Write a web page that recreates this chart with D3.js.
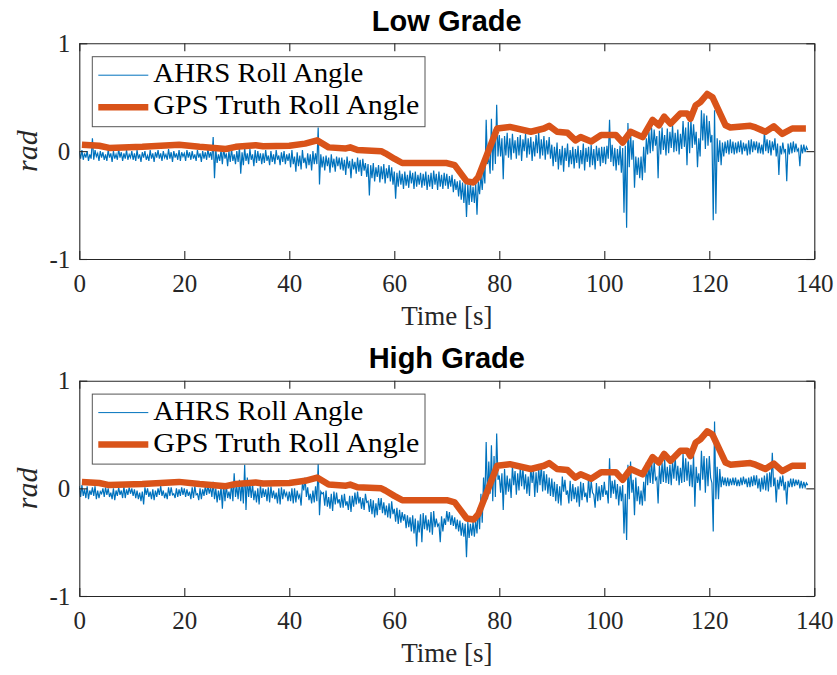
<!DOCTYPE html>
<html>
<head>
<meta charset="utf-8">
<script src="https://cdn.jsdelivr.net/npm/d3@7"></script>
<style>
  body { margin: 0; background: #fff; }
  svg { display: block; }
</style>
</head>
<body>
<svg id="chart" width="837" height="675"></svg>
<script>
// GPS truth roll angle (rad), same reference for both panels
const gpsTime = [0.5, 3.8, 5.7, 12, 19, 22.9, 27.9, 29.8, 33.6, 35, 40, 43, 45.3, 47.5, 50.8, 51.6, 53, 57.5, 58.3, 60, 61.5,
  70, 71.5, 73.8, 75.1, 76, 79.6, 82, 86, 88.5, 89.5, 91, 93, 94.5, 95.5, 97.5, 99.4, 102.2, 103.5, 105,
  107.3, 109.2, 110.4, 111.4, 112.6, 114.5, 115.8, 116.4, 117.4, 118.3, 119.6, 120.6, 123.1, 124, 127.8,
  128.8, 130.7, 132.3, 133.9, 135.8, 138.4];
const gpsRoll = [0.06, 0.05, 0.03, 0.04, 0.06, 0.04, 0.02, 0.04, 0.055, 0.045, 0.05, 0.07, 0.1, 0.035, 0.025, 0.035, 0.01, 0.0, -0.02, -0.07, -0.11,
  -0.11, -0.13, -0.28, -0.29, -0.24, 0.21, 0.225, 0.18, 0.21, 0.235, 0.18, 0.17, 0.1, 0.13, 0.09, 0.15, 0.15, 0.08, 0.18,
  0.13, 0.29, 0.24, 0.32, 0.255, 0.35, 0.35, 0.3, 0.425, 0.455, 0.53, 0.5, 0.24, 0.22, 0.235,
  0.22, 0.18, 0.23, 0.16, 0.21, 0.21];

// AHRS roll angle (rad), one sample every 0.25 s from t = 0 (one row = 5 s)
const ahrsLow = [
  -0.01, -0.07, 0.01, -0.08, -0.02, -0.06, 0.00, -0.09, -0.03, -0.07, 0.12, -0.08, 0.01, -0.05, -0.02, -0.09, 0.00, -0.06, -0.01, -0.08,
  -0.03, -0.09, 0.01, -0.06, -0.02, -0.10, 0.00, -0.07, -0.03, -0.08, 0.02, -0.06, -0.01, -0.09, -0.02, -0.07, 0.01, -0.08, -0.03, -0.06,
  0.00, -0.08, -0.02, -0.09, 0.01, -0.07, -0.03, -0.10, -0.01, -0.06, 0.00, -0.08, -0.04, -0.09, 0.01, -0.07, -0.02, -0.10, -0.01, -0.06,
  0.01, -0.07, -0.02, -0.09, 0.00, -0.06, -0.03, -0.08, 0.02, -0.07, -0.01, -0.10, 0.00, -0.06, -0.02, -0.08, 0.01, -0.09, -0.01, -0.05,
  -0.02, -0.09, 0.01, -0.06, -0.01, -0.08, 0.00, -0.07, -0.03, -0.09, 0.01, -0.06, -0.02, -0.10, 0.00, -0.07, -0.01, -0.08, 0.02, -0.06,
  -0.01, -0.08, 0.13, -0.25, 0.02, -0.11, -0.03, -0.09, 0.01, -0.12, 0.03, -0.07, -0.02, -0.14, 0.00, -0.10, 0.02, -0.09, -0.03, -0.12,
  0.00, -0.10, 0.04, -0.21, -0.01, -0.13, 0.03, -0.09, -0.02, -0.12, 0.02, -0.08, -0.03, -0.14, 0.01, -0.11, 0.00, -0.09, -0.02, -0.12,
  -0.02, -0.11, 0.01, -0.09, -0.04, -0.13, 0.00, -0.10, -0.03, -0.12, 0.01, -0.08, -0.04, -0.13, -0.01, -0.10, 0.00, -0.12, -0.03, -0.09,
  -0.02, -0.15, 0.01, -0.12, -0.05, -0.19, -0.01, -0.14, -0.04, -0.17, 0.01, -0.11, -0.06, -0.16, -0.02, -0.13, -0.03, -0.18, 0.00, -0.12,
  -0.02, -0.12, 0.22, -0.31, -0.03, -0.15, -0.05, -0.18, -0.04, -0.14, -0.06, -0.20, -0.03, -0.15, -0.07, -0.19, -0.05, -0.14, -0.06, -0.17,
  -0.06, -0.18, -0.08, -0.22, -0.05, -0.16, -0.09, -0.25, -0.07, -0.17, -0.10, -0.21, -0.06, -0.19, -0.08, -0.23, -0.07, -0.18, -0.11, -0.24,
  -0.12, -0.41, -0.13, -0.25, -0.11, -0.28, -0.15, -0.24, -0.13, -0.29, -0.14, -0.26, -0.12, -0.30, -0.16, -0.25, -0.13, -0.28, -0.15, -0.31,
  -0.19, -0.44, -0.20, -0.33, -0.18, -0.31, -0.21, -0.35, -0.19, -0.32, -0.22, -0.34, -0.18, -0.30, -0.20, -0.35, -0.19, -0.33, -0.22, -0.31,
  -0.20, -0.34, -0.21, -0.32, -0.19, -0.36, -0.22, -0.33, -0.20, -0.35, -0.18, -0.31, -0.21, -0.36, -0.19, -0.33, -0.22, -0.35, -0.20, -0.32,
  -0.21, -0.35, -0.23, -0.33, -0.22, -0.38, -0.26, -0.36, -0.28, -0.42, -0.27, -0.45, -0.29, -0.48, -0.30, -0.61, -0.31, -0.50, -0.29, -0.47,
  -0.33, -0.48, -0.30, -0.59, -0.28, -0.40, -0.22, -0.36, -0.15, -0.30, 0.29, -0.12, -0.05, -0.21, 0.30, -0.18, 0.20, -0.12, 0.43, -0.05,
  0.15, -0.05, 0.12, -0.26, 0.14, -0.04, 0.17, -0.06, 0.12, -0.08, 0.16, -0.02, 0.10, -0.07, 0.13, -0.04, 0.15, -0.09, 0.11, 0.00,
  0.16, -0.06, 0.12, -0.03, 0.13, -0.09, 0.09, -0.05, 0.15, -0.02, 0.18, -0.07, 0.11, -0.04, 0.14, -0.08, 0.10, -0.03, 0.13, -0.07,
  0.06, -0.14, 0.04, -0.10, 0.08, -0.17, 0.02, -0.13, 0.05, -0.19, 0.03, -0.09, 0.07, -0.15, 0.01, -0.12, 0.04, -0.16, 0.02, -0.11,
  0.05, -0.16, 0.01, -0.12, 0.07, -0.18, 0.03, -0.10, 0.04, -0.15, 0.06, -0.13, 0.02, -0.17, 0.05, -0.09, 0.03, -0.14, 0.04, -0.11,
  0.04, -0.12, 0.05, -0.07, 0.29, -0.10, 0.06, -0.14, 0.03, -0.18, 0.02, -0.13, 0.05, -0.20, 0.03, -0.57, 0.05, -0.71, 0.26, -0.15,
  0.18, -0.08, 0.10, -0.34, -0.05, -0.22, -0.06, -0.25, -0.05, -0.27, 0.04, -0.20, 0.12, -0.03, 0.18, -0.02, 0.22, 0.00, 0.20, 0.05,
  0.14, -0.25, 0.19, -0.03, 0.22, 0.01, 0.15, -0.04, 0.21, -0.02, 0.18, 0.03, 0.24, -0.01, 0.17, 0.00, 0.20, -0.03, 0.16, 0.02,
  0.28, 0.04, 0.22, -0.13, 0.27, -0.02, 0.30, 0.03, 0.25, 0.06, 0.18, -0.15, 0.12, -0.05, 0.38, 0.10, 0.35, 0.02, 0.33, 0.05,
  0.28, 0.08, 0.15, -0.64, 0.38, -0.58, 0.12, -0.10, 0.10, -0.13, 0.08, -0.05, 0.09, -0.02, 0.10, -0.03, 0.11, -0.02, 0.09, -0.03,
  0.08, -0.02, 0.09, -0.01, 0.10, -0.03, 0.08, 0.00, 0.07, -0.04, 0.10, -0.03, 0.11, -0.01, 0.09, 0.01, 0.09, -0.02, 0.08, -0.02,
  0.06, -0.03, 0.18, 0.00, 0.11, -0.02, 0.10, -0.04, 0.09, 0.01, 0.12, -0.05, 0.07, -0.22, 0.05, -0.03, 0.08, -0.01, 0.02, -0.28,
  0.07, -0.03, 0.08, -0.02, 0.09, -0.01, 0.07, 0.00, 0.02, -0.14, 0.06, -0.02, 0.06, -0.01, 0.04, 0.01];

const ahrsHigh = [
  0.02, -0.08, 0.03, -0.07, -0.01, -0.09, 0.02, -0.10, -0.02, -0.06, 0.01, -0.07, 0.02, -0.10, -0.02, -0.09, -0.03, -0.05, 0.00, -0.08,
  0.01, -0.06, 0.00, -0.08, -0.04, -0.10, 0.00, -0.11, -0.02, -0.07, 0.01, -0.06, -0.02, -0.09, 0.02, -0.09, -0.01, -0.06, 0.01, -0.05,
  0.00, -0.07, -0.01, -0.09, -0.02, -0.10, -0.04, -0.12, -0.03, -0.15, 0.01, -0.06, 0.00, -0.08, -0.03, -0.10, -0.01, -0.11, -0.02, -0.08,
  0.00, -0.06, 0.02, -0.07, -0.02, -0.09, -0.04, -0.10, 0.01, -0.07, 0.01, -0.06, -0.05, -0.09, 0.00, -0.08, -0.01, -0.07, 0.01, -0.06,
  0.00, -0.08, -0.01, -0.07, -0.03, -0.10, 0.01, -0.09, 0.02, -0.06, -0.05, -0.11, 0.00, -0.10, -0.01, -0.07, 0.02, -0.06, 0.03, -0.05,
  0.01, -0.08, 0.06, -0.10, 0.00, -0.13, -0.02, -0.11, 0.02, -0.19, 0.04, -0.12, 0.03, -0.09, -0.03, -0.10, 0.05, -0.12, 0.14, -0.08,
  0.02, -0.10, 0.08, -0.12, 0.06, -0.14, 0.22, -0.20, 0.10, -0.08, 0.05, -0.09, 0.04, -0.11, -0.02, -0.13, 0.00, -0.15, 0.03, -0.09,
  0.00, -0.08, -0.01, -0.12, 0.01, -0.13, 0.02, -0.09, -0.02, -0.10, -0.04, -0.14, 0.00, -0.15, 0.01, -0.10, -0.01, -0.07, -0.04, -0.12,
  -0.03, -0.12, 0.00, -0.14, 0.00, -0.13, -0.02, -0.09, -0.06, -0.16, 0.05, -0.02, 0.10, -0.08, 0.01, -0.11, -0.05, -0.14, -0.02, -0.13,
  0.02, -0.12, 0.23, -0.25, -0.03, -0.05, -0.04, -0.16, -0.02, -0.17, -0.08, -0.19, -0.05, -0.21, -0.03, -0.15, -0.04, -0.14, -0.10, -0.18,
  -0.06, -0.18, -0.05, -0.16, -0.12, -0.20, -0.07, -0.22, -0.07, -0.17, -0.04, -0.15, -0.03, -0.14, -0.08, -0.19, -0.09, -0.20, -0.05, -0.13,
  -0.12, -0.22, -0.10, -0.24, -0.11, -0.27, -0.14, -0.25, -0.09, -0.20, -0.09, -0.23, -0.13, -0.25, -0.16, -0.27, -0.14, -0.28, -0.12, -0.24,
  -0.19, -0.31, -0.18, -0.33, -0.20, -0.32, -0.22, -0.30, -0.24, -0.37, -0.25, -0.36, -0.27, -0.40, -0.25, -0.42, -0.28, -0.54, -0.30, -0.41,
  -0.24, -0.50, -0.23, -0.38, -0.25, -0.39, -0.29, -0.41, -0.22, -0.43, -0.21, -0.36, -0.28, -0.35, -0.33, -0.50, -0.26, -0.40, -0.28, -0.34,
  -0.21, -0.31, -0.22, -0.34, -0.25, -0.35, -0.27, -0.38, -0.29, -0.40, -0.30, -0.44, -0.32, -0.45, -0.33, -0.64, -0.31, -0.46, -0.33, -0.44,
  -0.31, -0.45, -0.30, -0.42, -0.18, -0.38, -0.05, -0.32, 0.10, -0.12, 0.43, -0.10, 0.25, -0.05, 0.40, -0.12, 0.30, -0.08, 0.51, 0.08,
  0.12, -0.04, 0.14, -0.20, 0.18, -0.06, 0.12, -0.03, 0.09, -0.09, 0.21, 0.03, 0.16, -0.06, 0.14, -0.02, 0.20, 0.02, 0.19, -0.01,
  0.13, -0.05, 0.11, -0.07, 0.20, 0.05, 0.17, -0.08, 0.15, -0.04, 0.19, 0.03, 0.22, -0.03, 0.16, -0.02, 0.13, -0.05, 0.10, -0.07,
  0.09, -0.08, 0.06, -0.12, 0.04, -0.14, 0.02, -0.16, 0.11, -0.03, 0.08, -0.06, -0.02, -0.14, 0.07, -0.12, 0.04, -0.10, 0.01, -0.13,
  0.02, -0.17, 0.06, -0.11, 0.05, -0.08, -0.04, -0.13, 0.10, -0.09, 0.07, -0.04, -0.06, -0.18, 0.05, -0.12, 0.02, -0.11, 0.03, -0.08,
  0.06, -0.06, -0.02, -0.14, 0.28, -0.09, 0.07, -0.05, 0.08, -0.10, 0.04, -0.16, 0.02, -0.12, 0.03, -0.42, -0.05, -0.48, 0.22, -0.10,
  0.25, -0.04, 0.08, -0.25, 0.10, -0.12, 0.02, -0.15, -0.02, -0.16, 0.06, -0.12, 0.24, 0.03, 0.21, 0.05, 0.27, 0.04, 0.25, 0.08,
  0.10, -0.14, 0.21, 0.04, 0.24, 0.06, 0.27, 0.05, 0.20, 0.04, 0.22, 0.03, 0.25, 0.09, 0.30, 0.07, 0.21, 0.03, 0.19, 0.05,
  0.32, 0.06, 0.28, 0.07, 0.25, 0.02, 0.22, 0.01, 0.31, -0.17, 0.20, 0.05, 0.14, -0.02, 0.35, 0.08, 0.30, -0.04, 0.28, 0.02,
  0.30, 0.10, 0.05, -0.40, 0.62, -0.10, 0.20, -0.10, 0.18, 0.01, 0.11, 0.03, 0.10, 0.02, 0.10, 0.02, 0.09, 0.03, 0.10, 0.03,
  0.10, 0.02, 0.08, 0.02, 0.10, 0.03, 0.11, 0.04, 0.09, 0.01, 0.10, 0.01, 0.11, 0.02, 0.12, 0.03, 0.12, 0.00, 0.09, -0.03,
  0.10, -0.01, 0.12, -0.02, 0.14, -0.03, 0.15, 0.01, 0.33, 0.02, 0.10, -0.13, 0.08, -0.01, 0.11, 0.02, 0.12, -0.02, 0.06, -0.15,
  0.07, 0.01, 0.09, 0.01, 0.09, 0.02, 0.08, 0.03, 0.08, 0.00, 0.07, 0.00, 0.06, 0.01, 0.05, 0.03];
const ahrsStep = 0.25;

const xTicks = [0, 20, 40, 60, 80, 100, 120, 140];
const yTicks = [-1, 0, 1];
const panelTitles = ["Low Grade", "High Grade"];
const legendLabels = ["AHRS Roll Angle", "GPS Truth Roll Angle"];

const blue = "#0072BD", orange = "#D95319", axisColor = "#262626";
const serif = "'Liberation Serif', 'Times New Roman', serif";
const gpsWidth = 6.5;

const svg = d3.select("#chart");
const x = d3.scaleLinear().domain([0, 140]).range([79.3, 814.3]);

const panels = [
  {title: panelTitles[0], ahrs: ahrsLow, top: 43.3, bottom: 259, titleY: 31},
  {title: panelTitles[1], ahrs: ahrsHigh, top: 380.7, bottom: 596, titleY: 368}
];

panels.forEach(function(p, k) {
  const y = d3.scaleLinear().domain([-1, 1]).range([p.bottom, p.top]);
  const g = svg.append("g");

  g.append("clipPath").attr("id", "clip" + k)
    .append("rect")
    .attr("x", x(0)).attr("y", p.top)
    .attr("width", x(140) - x(0)).attr("height", p.bottom - p.top);

  const plot = g.append("g").attr("clip-path", "url(#clip" + k + ")");

  const ahrsPts = p.ahrs.map(function(v, i) { return [i * ahrsStep, v]; });
  const gpsPts = gpsTime.map(function(t, i) { return [t, gpsRoll[i]]; });
  const line = d3.line().x(function(d) { return x(d[0]); }).y(function(d) { return y(d[1]); });

  plot.append("path")
    .datum(ahrsPts)
    .attr("d", line)
    .attr("fill", "none")
    .attr("stroke", blue)
    .attr("stroke-width", 1.2)
    .attr("stroke-linejoin", "miter");

  plot.append("path")
    .datum(gpsPts)
    .attr("d", line)
    .attr("fill", "none")
    .attr("stroke", orange)
    .attr("stroke-width", gpsWidth)
    .attr("stroke-linejoin", "round")
    .attr("stroke-linecap", "butt");

  // axes, MATLAB style box with inward ticks
  const fmt = function(d) { return String(d); };
  g.append("g")
    .attr("transform", "translate(0," + p.bottom + ")")
    .call(d3.axisBottom(x).tickValues(xTicks).tickFormat(fmt).tickSizeInner(-8).tickSizeOuter(0).tickPadding(15));
  g.append("g")
    .attr("transform", "translate(0," + p.top + ")")
    .call(d3.axisTop(x).tickValues(xTicks).tickFormat("").tickSizeInner(-8).tickSizeOuter(0));
  g.append("g")
    .attr("transform", "translate(" + x(0) + ",0)")
    .call(d3.axisLeft(y).tickValues(yTicks).tickFormat(fmt).tickSizeInner(-8).tickSizeOuter(0).tickPadding(9));
  g.append("g")
    .attr("transform", "translate(" + x(140) + ",0)")
    .call(d3.axisRight(y).tickValues(yTicks).tickFormat("").tickSizeInner(-8).tickSizeOuter(0));

  g.selectAll(".domain, .tick line").attr("stroke", axisColor).attr("stroke-width", 1.1);
  g.selectAll(".tick text")
    .attr("fill", axisColor)
    .style("font-family", serif)
    .style("font-size", "25px");

  // title
  g.append("text")
    .attr("x", (x(0) + x(140)) / 2)
    .attr("y", p.titleY)
    .attr("text-anchor", "middle")
    .style("font-family", "'Liberation Sans', Arial, sans-serif")
    .style("font-weight", "bold")
    .style("font-size", "29px")
    .text(p.title);

  // axis labels
  g.append("text")
    .attr("x", (x(0) + x(140)) / 2)
    .attr("y", p.bottom + 66)
    .attr("text-anchor", "middle")
    .attr("fill", axisColor)
    .style("font-family", serif)
    .style("font-size", "27px")
    .text("Time [s]");

  g.append("text")
    .attr("transform", "translate(37," + ((p.top + p.bottom) / 2) + ") rotate(-90)")
    .attr("text-anchor", "middle")
    .attr("fill", axisColor)
    .style("font-family", serif)
    .style("font-style", "italic")
    .style("font-size", "30px")
    .text("rad");

  // legend
  const lg = g.append("g").attr("transform", "translate(92.3," + (p.top + 13.4) + ")");
  lg.append("rect")
    .attr("width", 332.7).attr("height", 70)
    .attr("fill", "#fff")
    .attr("stroke", "#555")
    .attr("stroke-width", 1);
  const rows = [
    {label: legendLabels[0], color: blue, w: 1, len: 210},
    {label: legendLabels[1], color: orange, w: gpsWidth, len: 266}
  ];
  rows.forEach(function(r, i) {
    const cy = 18.5 + i * 32;
    lg.append("line")
      .attr("x1", 6).attr("x2", 56)
      .attr("y1", cy).attr("y2", cy)
      .attr("stroke", r.color).attr("stroke-width", r.w);
    lg.append("text")
      .attr("x", 61).attr("y", cy + 7)
      .attr("textLength", r.len)
      .attr("lengthAdjust", "spacingAndGlyphs")
      .attr("fill", "#000")
      .style("font-family", serif)
      .style("font-size", "27px")
      .text(r.label);
  });
});
</script>
</body>
</html>
